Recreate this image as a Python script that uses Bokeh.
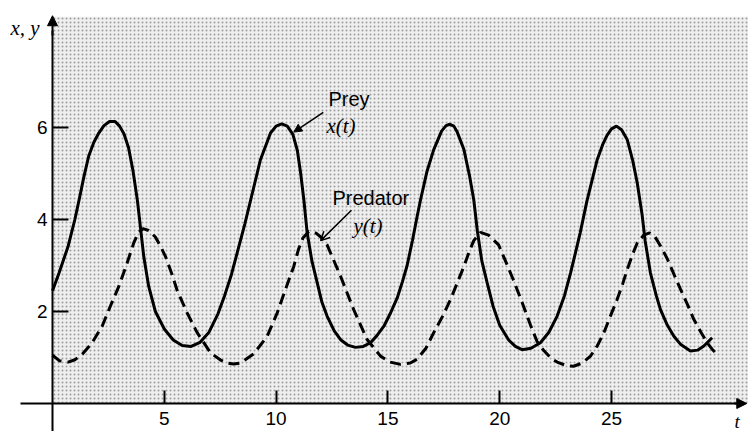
from bokeh.plotting import figure
from bokeh.models import Range1d, FixedTicker, Arrow, NormalHead, OpenHead, Label
from bokeh.core.properties import value
from bokeh.embed import file_html
from bokeh.resources import INLINE

# ---- data ----
prey_t = [0.0, 0.3, 0.7, 1.0, 1.2, 1.4, 1.62, 1.85, 2.07, 2.3, 2.55, 2.8, 3.0, 3.2, 3.4, 3.6,
          3.8, 3.94, 4.08, 4.3, 4.6, 5.0, 5.4, 5.8, 6.2, 6.6, 7.0, 7.4, 7.7, 8.0, 8.3, 8.6, 8.9,
          9.3, 9.75, 10.0, 10.25, 10.5, 10.75, 10.95, 11.1, 11.24, 11.39, 11.6, 11.84, 12.05,
          12.28, 12.6, 12.9, 13.2, 13.55, 13.9, 14.22, 14.5, 14.82, 15.1, 15.42, 15.65, 15.86,
          16.1, 16.3, 16.46, 16.75, 17.05, 17.4, 17.6, 17.77, 17.95, 18.1, 18.4, 18.65, 18.84,
          19.0, 19.2, 19.44, 19.7, 20.0, 20.4, 20.7, 21.0, 21.4, 21.82, 22.2, 22.57, 22.9, 23.17,
          23.4, 23.6, 23.9, 24.36, 24.6, 24.8, 25.0, 25.22, 25.45, 25.7, 25.95, 26.15, 26.37,
          26.5, 26.74, 27.0, 27.19, 27.5, 27.79, 28.1, 28.53, 28.85, 29.13, 29.5]
prey_x = [2.45, 2.85, 3.42, 4.00, 4.45, 4.92, 5.38, 5.68, 5.88, 6.04, 6.13, 6.13, 6.03, 5.86,
          5.56, 5.06, 4.40, 3.80, 3.20, 2.55, 2.00, 1.62, 1.38, 1.26, 1.24, 1.33, 1.55, 1.95,
          2.35, 2.80, 3.35, 3.90, 4.50, 5.30, 5.88, 6.03, 6.08, 6.03, 5.85, 5.50, 5.00, 4.43,
          3.71, 3.10, 2.62, 2.20, 1.90, 1.58, 1.38, 1.27, 1.22, 1.24, 1.32, 1.47, 1.68, 1.95,
          2.30, 2.65, 3.00, 3.55, 4.05, 4.43, 5.05, 5.52, 5.92, 6.04, 6.07, 6.03, 5.90, 5.52,
          4.95, 4.43, 3.75, 3.10, 2.62, 2.12, 1.70, 1.38, 1.24, 1.17, 1.20, 1.32, 1.55, 1.90,
          2.35, 2.84, 3.30, 3.71, 4.40, 5.30, 5.62, 5.83, 5.97, 6.03, 5.95, 5.74, 5.28, 4.80,
          4.10, 3.55, 2.84, 2.35, 2.04, 1.70, 1.46, 1.28, 1.14, 1.16, 1.25, 1.43]

pred_t = [0.0, 0.3, 0.7, 1.0, 1.33, 1.77, 2.22, 2.59, 2.97, 3.34, 3.64, 3.85, 4.05, 4.3, 4.6,
          4.83, 5.05, 5.35, 5.58, 6.02, 6.47, 7.07, 7.5, 7.81, 8.1, 8.41, 9.0, 9.6, 10.05, 10.42,
          10.79, 11.0, 11.2, 11.46, 11.8, 12.0, 12.28, 12.88, 13.47, 14.07, 14.67, 15.1, 15.56,
          16.0, 16.3, 16.7, 17.05, 17.45, 17.8, 18.1, 18.4, 18.65, 18.84, 19.14, 19.5, 19.95,
          20.3, 20.6, 21.0, 21.38, 21.67, 21.97, 22.3, 22.57, 23.0, 23.3, 23.7, 24.06, 24.36,
          24.66, 24.95, 25.25, 25.5, 25.7, 25.95, 26.15, 26.44, 26.7, 26.95, 27.2, 27.49, 27.8,
          28.09, 28.4, 28.68, 29.0, 29.28, 29.5, 29.72]
pred_y = [1.05, 0.93, 0.90, 0.95, 1.07, 1.32, 1.68, 2.12, 2.55, 3.06, 3.50, 3.72, 3.80, 3.76,
          3.62, 3.42, 3.20, 2.80, 2.45, 1.97, 1.54, 1.10, 0.95, 0.88, 0.86, 0.88, 1.08, 1.46,
          1.97, 2.48, 2.98, 3.35, 3.60, 3.74, 3.70, 3.62, 3.45, 2.77, 2.04, 1.39, 1.03, 0.90,
          0.85, 0.88, 0.96, 1.20, 1.54, 1.90, 2.26, 2.62, 2.98, 3.32, 3.54, 3.72, 3.66, 3.45,
          3.05, 2.70, 2.20, 1.70, 1.35, 1.15, 0.98, 0.90, 0.82, 0.81, 0.88, 1.03, 1.25, 1.54,
          1.90, 2.26, 2.60, 2.91, 3.25, 3.49, 3.66, 3.71, 3.62, 3.42, 3.15, 2.80, 2.48, 2.15,
          1.83, 1.55, 1.32, 1.18, 1.07]

x_ticks = [5, 10, 15, 20, 25]
y_ticks = [2, 4, 6]

# ---- layout constants ----
X0, X1 = -2.326, 31.127
Y0, Y1 = -0.609, 8.761
SHADE_TOP = 8.41

SANS = "Liberation Sans"
SERIF = "Liberation Serif"

p = figure(width=748, height=431, output_backend="svg", toolbar_location=None,
           x_range=Range1d(X0, X1), y_range=Range1d(Y0, Y1),
           min_border=0, min_border_left=0, min_border_right=0,
           min_border_top=0, min_border_bottom=0)
p.outline_line_color = None
p.grid.visible = False
p.background_fill_color = "white"
p.border_fill_color = "white"

# stippled background
p.quad(left=[0], right=[X1], bottom=[0], top=[SHADE_TOP], fill_color="#efefef",
       line_color=None, hatch_pattern=".", hatch_color="#8a8a8a", hatch_scale=4,
       hatch_weight=1, hatch_alpha=0.8)

# curves
p.line(prey_t, prey_x, line_color="black", line_width=3)
p.line(pred_t, pred_y, line_color="black", line_width=3, line_dash="11 6")

# axes through the origin
p.xaxis.fixed_location = 0
p.yaxis.fixed_location = 0
p.xaxis.ticker = FixedTicker(ticks=x_ticks)
p.yaxis.ticker = FixedTicker(ticks=y_ticks)
p.xaxis.bounds = (-1.43, 30.7)
p.yaxis.bounds = (Y0, 8.1)
for ax in (p.xaxis, p.yaxis):
    ax.axis_line_width = 2
    ax.axis_line_color = "black"
    ax.major_tick_line_width = 2
    ax.major_tick_line_color = "black"
    ax.minor_tick_line_color = None
    ax.major_label_text_font = SANS
    ax.major_label_text_font_size = "19px"
    ax.major_label_text_color = "black"
p.xaxis.major_tick_in = 13
p.xaxis.major_tick_out = 0
p.xaxis.major_label_standoff = 9
p.yaxis.major_tick_in = 16
p.yaxis.major_tick_out = 0
p.yaxis.major_label_standoff = 5

# axis arrowheads
p.add_layout(Arrow(end=NormalHead(size=10, fill_color="black", line_color="black"),
                   x_start=0, y_start=8.0, x_end=0, y_end=8.43,
                   line_width=2, line_color="black"))
p.add_layout(Arrow(end=NormalHead(size=10, fill_color="black", line_color="black"),
                   x_start=30.5, y_start=0, x_end=31.05, y_end=0,
                   line_width=2, line_color="black"))

# axis titles
p.add_layout(Label(x=-1.88, y=8.16, text="x, y", text_font=SERIF, text_font_style="italic",
                   text_font_size="21px", text_color="black", text_baseline="alphabetic"))
p.add_layout(Label(x=30.5, y=-0.40, text="t", text_font=SERIF, text_font_style="italic",
                   text_font_size="19px", text_color="black", text_baseline="alphabetic"))

# curve annotations
p.add_layout(Label(x=12.34, y=6.61, text="Prey", text_font=SANS, text_font_size="20px",
                   text_color="black", text_baseline="alphabetic"))
p.add_layout(Label(x=12.25, y=6.04, text="x(t)", text_font=SERIF, text_font_style="italic",
                   text_font_size="21px", text_color="black", text_baseline="alphabetic"))
p.add_layout(Arrow(end=NormalHead(size=8, fill_color="black", line_color="black"),
                   x_start=12.11, y_start=6.33, x_end=10.79, y_end=5.90,
                   line_width=1.5, line_color="black"))

p.add_layout(Label(x=12.52, y=4.46, text="Predator", text_font=SANS, text_font_size="20px",
                   text_color="black", text_baseline="alphabetic"))
p.add_layout(Label(x=13.46, y=3.85, text="y(t)", text_font=SERIF, text_font_style="italic",
                   text_font_size="21px", text_color="black", text_baseline="alphabetic"))
p.add_layout(Arrow(end=OpenHead(size=9, line_color="black", line_width=1.5),
                   x_start=13.37, y_start=4.20, x_end=11.99, y_end=3.54,
                   line_width=1.5, line_color="black"))

open("out.html", "w").write(file_html(p, INLINE))
